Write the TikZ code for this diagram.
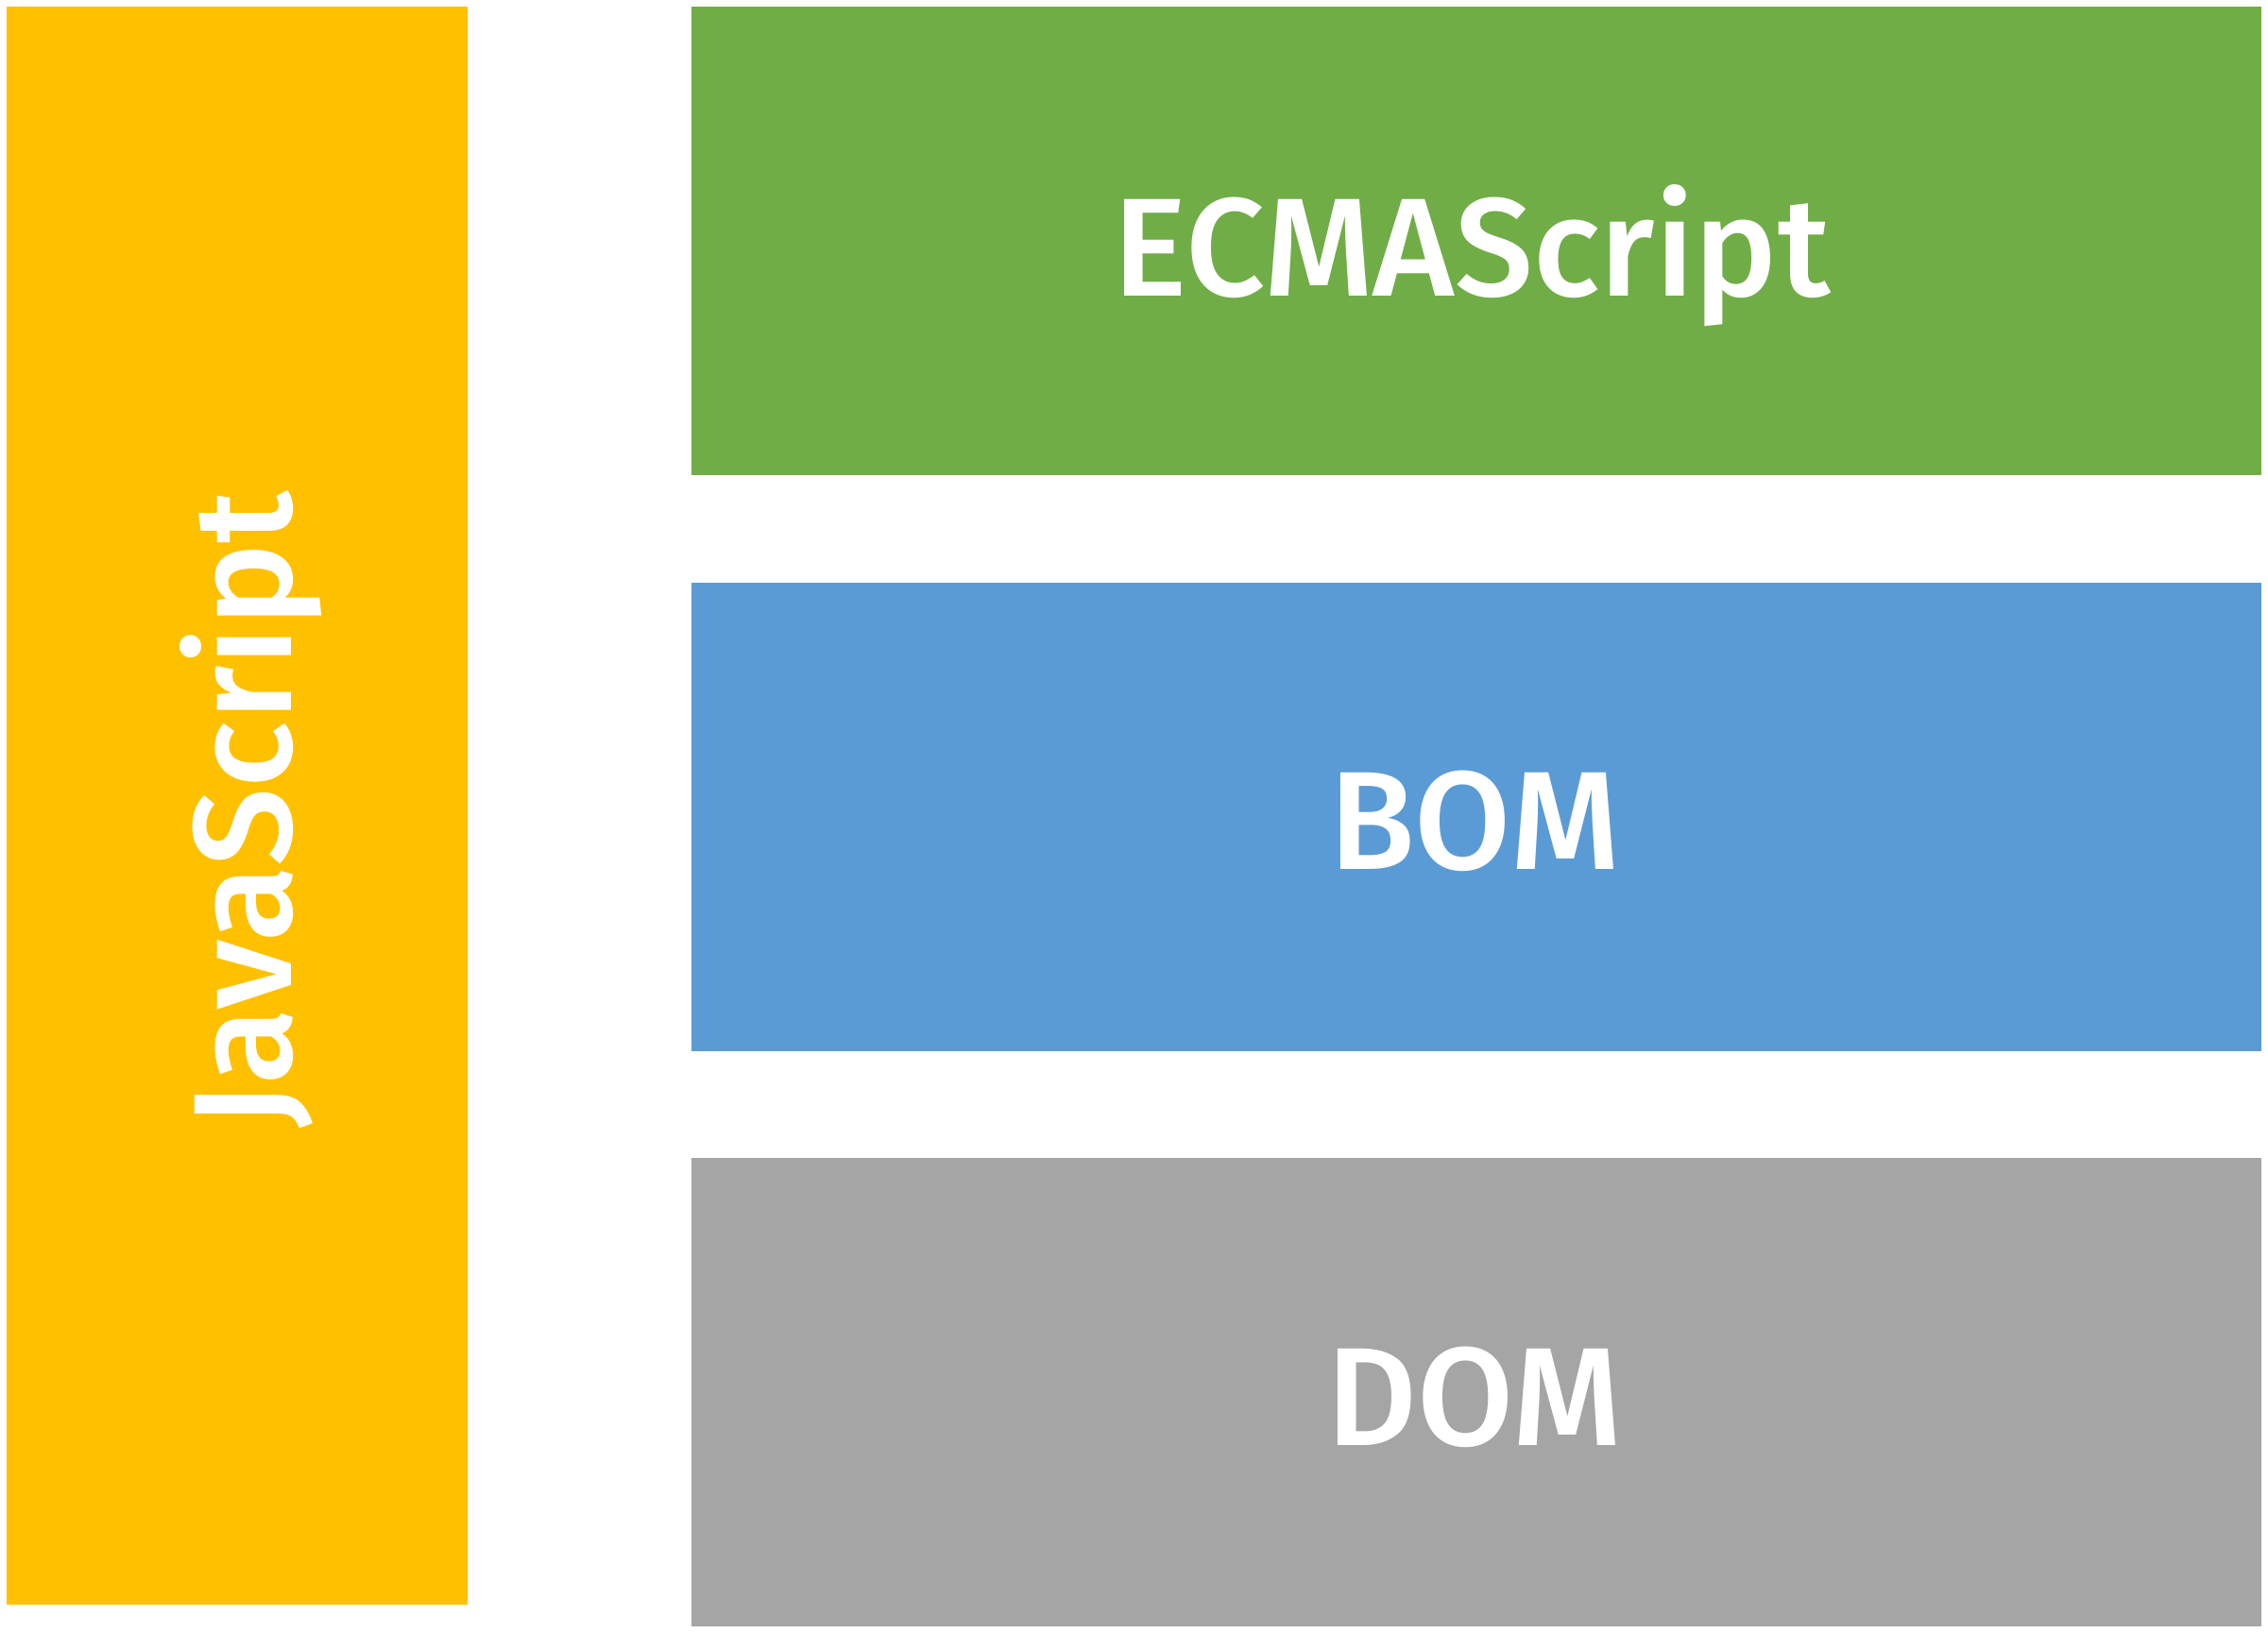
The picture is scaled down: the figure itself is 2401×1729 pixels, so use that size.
\documentclass[tikz,border=0pt]{standalone}
\usepackage{fontspec}
\setmainfont{Fira Sans Medium}
\definecolor{jsyellow}{HTML}{FFC000}
\definecolor{esgreen}{HTML}{70AD47}
\definecolor{bomblue}{HTML}{5B9BD5}
\definecolor{domgray}{HTML}{A5A5A5}
\begin{document}
\begin{tikzpicture}[x=1pt,y=-1pt,
  label/.style={text=white,inner sep=0pt,anchor=base,font=\fontsize{148}{148}\selectfont}]
\useasboundingbox (0,0) rectangle (2401,1729);
% JavaScript column
\fill[jsyellow] (7,7) rectangle (495,1699);
\node[label,rotate=90] (js) at (308,857) {JavaScript};
% three layers
\fill[esgreen] (732,7) rectangle (2394,503);
\node[label] (es) at (1558,313) {ECMAScript};
\fill[bomblue] (732,617) rectangle (2394,1113);
\node[label] (bom) at (1561,920) {BOM};
\fill[domgray] (732,1226) rectangle (2394,1722);
\node[label] (dom) at (1561,1530) {DOM};
\end{tikzpicture}
\end{document}
